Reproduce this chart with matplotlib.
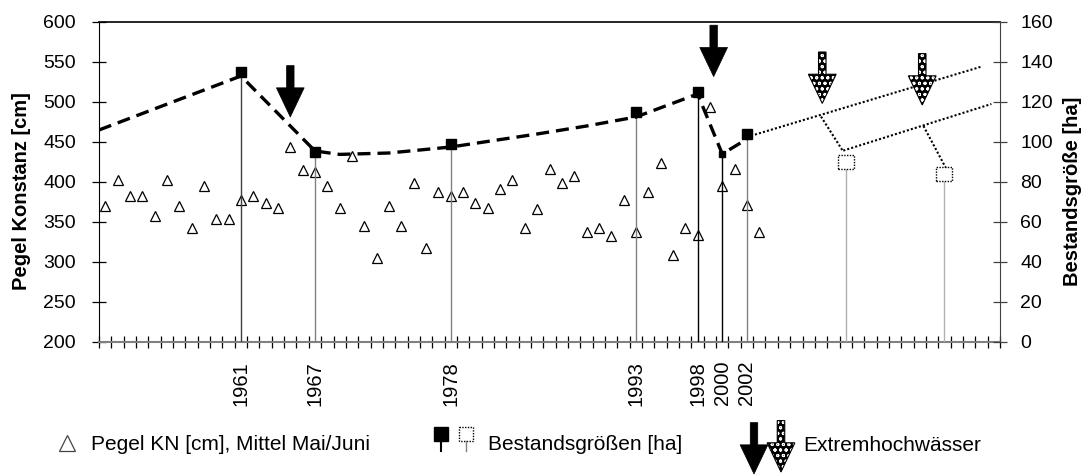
import numpy as np
import matplotlib.pyplot as plt
import matplotlib.transforms as mtransforms
from matplotlib.patches import Polygon, Rectangle

plt.rcParams['font.family'] = ['Liberation Sans', 'DejaVu Sans']
plt.rcParams['hatch.linewidth'] = 0.7

# Pegel Konstanz, Mittel Mai/Juni [cm]
pegel_years = np.arange(1950, 2004)
pegel_cm = [370, 403, 382, 382, 358, 403, 370, 342, 395, 354,
            354, 378, 382, 374, 367, 444, 415, 412, 395, 367,
            432, 345, 305, 370, 345, 399, 317, 387, 382, 387,
            374, 367, 391, 403, 342, 366, 416, 399, 407, 337,
            342, 333, 378, 337, 387, 424, 309, 342, 334, 494,
            395, 416, 371, 338]

# Bestandsgroessen [ha]
bestand_years = [1961, 1967, 1978, 1993, 1998, 2000, 2002]
bestand_ha = [135, 95, 99, 115, 125, 94, 104]

# gestrichelte Verbindungslinie
trend_years = [1949.5, 1961, 1967, 1969, 1973, 1978, 1985, 1989, 1993, 1998, 2000, 2002]
trend_ha = [106, 133, 95.5, 93.8, 94.5, 97.5, 104, 108, 112.5, 124, 94, 101.5]

# Prognose (gepunktet)
prog1_years = [2002, 2021]
prog1_ha = [102.5, 137.7]
prog2_years = [2009.8, 2021.8]
prog2_ha = [95.7, 119]
link_years = [[2008, 2009.8], [2016.3, 2018.2]]
link_ha = [[112.7, 95.2], [108, 86]]
future_years = [2010, 2018]
future_ha = [90, 84]

# Extremhochwaesser (Pfeilspitze, ha-Achse)
flood_years = [1965, 1999.3]
flood_tip = [112.5, 132.7]
flood2_years = [2008.1, 2016.2]
flood2_tip = [119.3, 118.5]

label_years = [1961, 1967, 1978, 1993, 1998, 2000, 2002]

W, H = 1084, 476
fig = plt.figure(figsize=(W / 100, H / 100), dpi=100)
ax = fig.add_axes([99 / W, 1 - 342 / H, 901 / W, 320 / H])
ax2 = ax.twinx()

ax.set_xlim(1949.5, 2022.5)
ax.set_ylim(200, 600)
ax2.set_ylim(0, 160)

ax.plot(pegel_years, pegel_cm, ls='none', marker='^', ms=7.5, mfc='none',
        mec='black', mew=0.9, zorder=3)

drop_colors = ['#404040', '#808080', '#808080', '#808080', 'black', 'black', '#808080']
ax2.vlines(bestand_years, 0, bestand_ha, colors=drop_colors, lw=1.0, zorder=1)
ax2.vlines(future_years, 0, future_ha, colors='#b0b0b0', lw=1.0, zorder=1)

ax2.plot(trend_years, trend_ha, color='black', lw=2.4, ls=(0, (3.9, 2.1)), zorder=3)
ax2.plot(prog1_years, prog1_ha, color='black', lw=1.5, ls=(0, (1, 1)), zorder=3)
ax2.plot(prog2_years, prog2_ha, color='black', lw=1.5, ls=(0, (1, 1)), zorder=3)
for xs, ys in zip(link_years, link_ha):
    ax2.plot(xs, ys, color='black', lw=1.5, ls=(0, (1, 1)), zorder=3)

sizes = [7.5, 7.2, 7.2, 7.2, 7.5, 5, 6.5]
for x, y, s in zip(bestand_years, bestand_ha, sizes):
    ax2.plot([x], [y], marker='s', ms=s, color='black', ls='none', zorder=4)


def pt_trans(axis, x, y):
    return (mtransforms.Affine2D().scale(1 / 72) + fig.dpi_scale_trans
            + mtransforms.ScaledTranslation(x, y, axis.transData))


def square_at(axis, x, y, w=11.5, h=10):
    axis.add_patch(Rectangle((-w / 2, -h / 2), w, h, transform=pt_trans(axis, x, y),
                             fc='white', ec='black', lw=1.0, ls=(0, (1, 1)),
                             zorder=5, clip_on=False))


ARROW = [(0, 0), (-10, 21), (-2.7, 21), (-2.7, 37), (2.7, 37), (2.7, 21), (10, 21)]


def arrow_at(axis, x, y, hatched):
    tr = pt_trans(axis, x, y)
    if hatched:
        axis.add_patch(Polygon(ARROW, closed=True, transform=tr, fc='black', ec='white',
                               hatch='ooo', lw=0, zorder=6, clip_on=False))
        axis.add_patch(Polygon(ARROW, closed=True, transform=tr, fill=False, ec='black',
                               lw=0.8, zorder=6, clip_on=False))
    else:
        axis.add_patch(Polygon(ARROW, closed=True, transform=tr, fc='black', ec='black',
                               lw=0.5, zorder=6, clip_on=False))


for x, y in zip(future_years, future_ha):
    square_at(ax2, x, y)
for x, y in zip(flood_years, flood_tip):
    arrow_at(ax2, x, y, False)
for x, y in zip(flood2_years, flood2_tip):
    arrow_at(ax2, x, y, True)

# Achsen
ax.set_xticks(label_years)
ax.set_xticklabels([str(y) for y in label_years], rotation=90, fontsize=14.5)
ax.set_xticks(np.arange(1949.5, 2023, 1), minor=True)
ax.tick_params(axis='x', which='major', length=0, pad=13.5)
ax.tick_params(axis='x', which='minor', direction='inout', length=8.6, width=0.9)
ax.set_yticks(np.arange(200, 601, 50))
ax.tick_params(axis='y', direction='inout', length=10, width=0.9, pad=11.5, labelsize=14)
ax2.set_yticks(np.arange(0, 161, 20))
ax2.tick_params(axis='y', direction='inout', length=10, width=0.9, pad=9.5,
                labelsize=14, color='#404040')

ax.spines['right'].set_visible(False)
ax.spines['left'].set_color('black')
ax.spines['top'].set_linewidth(1.2)
ax.spines['bottom'].set_color('#808080')
ax.spines['bottom'].set_linewidth(1.5)
for s in ['left', 'top', 'bottom']:
    ax2.spines[s].set_visible(False)
ax2.spines['right'].set_color('#404040')

# Beschriftung und Legende in Pixelkoordinaten
lg = fig.add_axes([0, 0, 1, 1])
lg.axis('off')
lg.set_xlim(0, W)
lg.set_ylim(H, 0)

lg.text(22, 191, 'Pegel Konstanz [cm]', rotation=90, ha='center', va='center',
        fontsize=14.5, fontweight='bold')
lg.text(1073, 191, 'Bestandsgröße [ha]', rotation=90, ha='center', va='center',
        fontsize=14.5, fontweight='bold')

lg.plot([67], [443], marker='^', ms=11, mfc='none', mec='#444444', mew=0.9, ls='none')
lg.text(91, 450, 'Pegel KN [cm], Mittel Mai/Juni', fontsize=15, va='baseline')

lg.add_patch(Rectangle((434, 427), 14, 14, fc='black', ec='black'))
lg.plot([441, 441], [441, 451], color='black', lw=1.5)
lg.add_patch(Rectangle((459, 427), 14, 14, fc='white', ec='black', lw=1.0, ls=(0, (1, 1))))
lg.plot([466, 466], [441, 451], color='#808080', lw=1.0)
lg.text(488, 450, 'Bestandsgrößen [ha]', fontsize=15, va='baseline')

arrow_at(lg, 754, 474, False)
arrow_at(lg, 781, 472, True)
lg.text(803, 451, 'Extremhochwässer', fontsize=15, va='baseline')

fig.savefig('out.png', dpi=100)
